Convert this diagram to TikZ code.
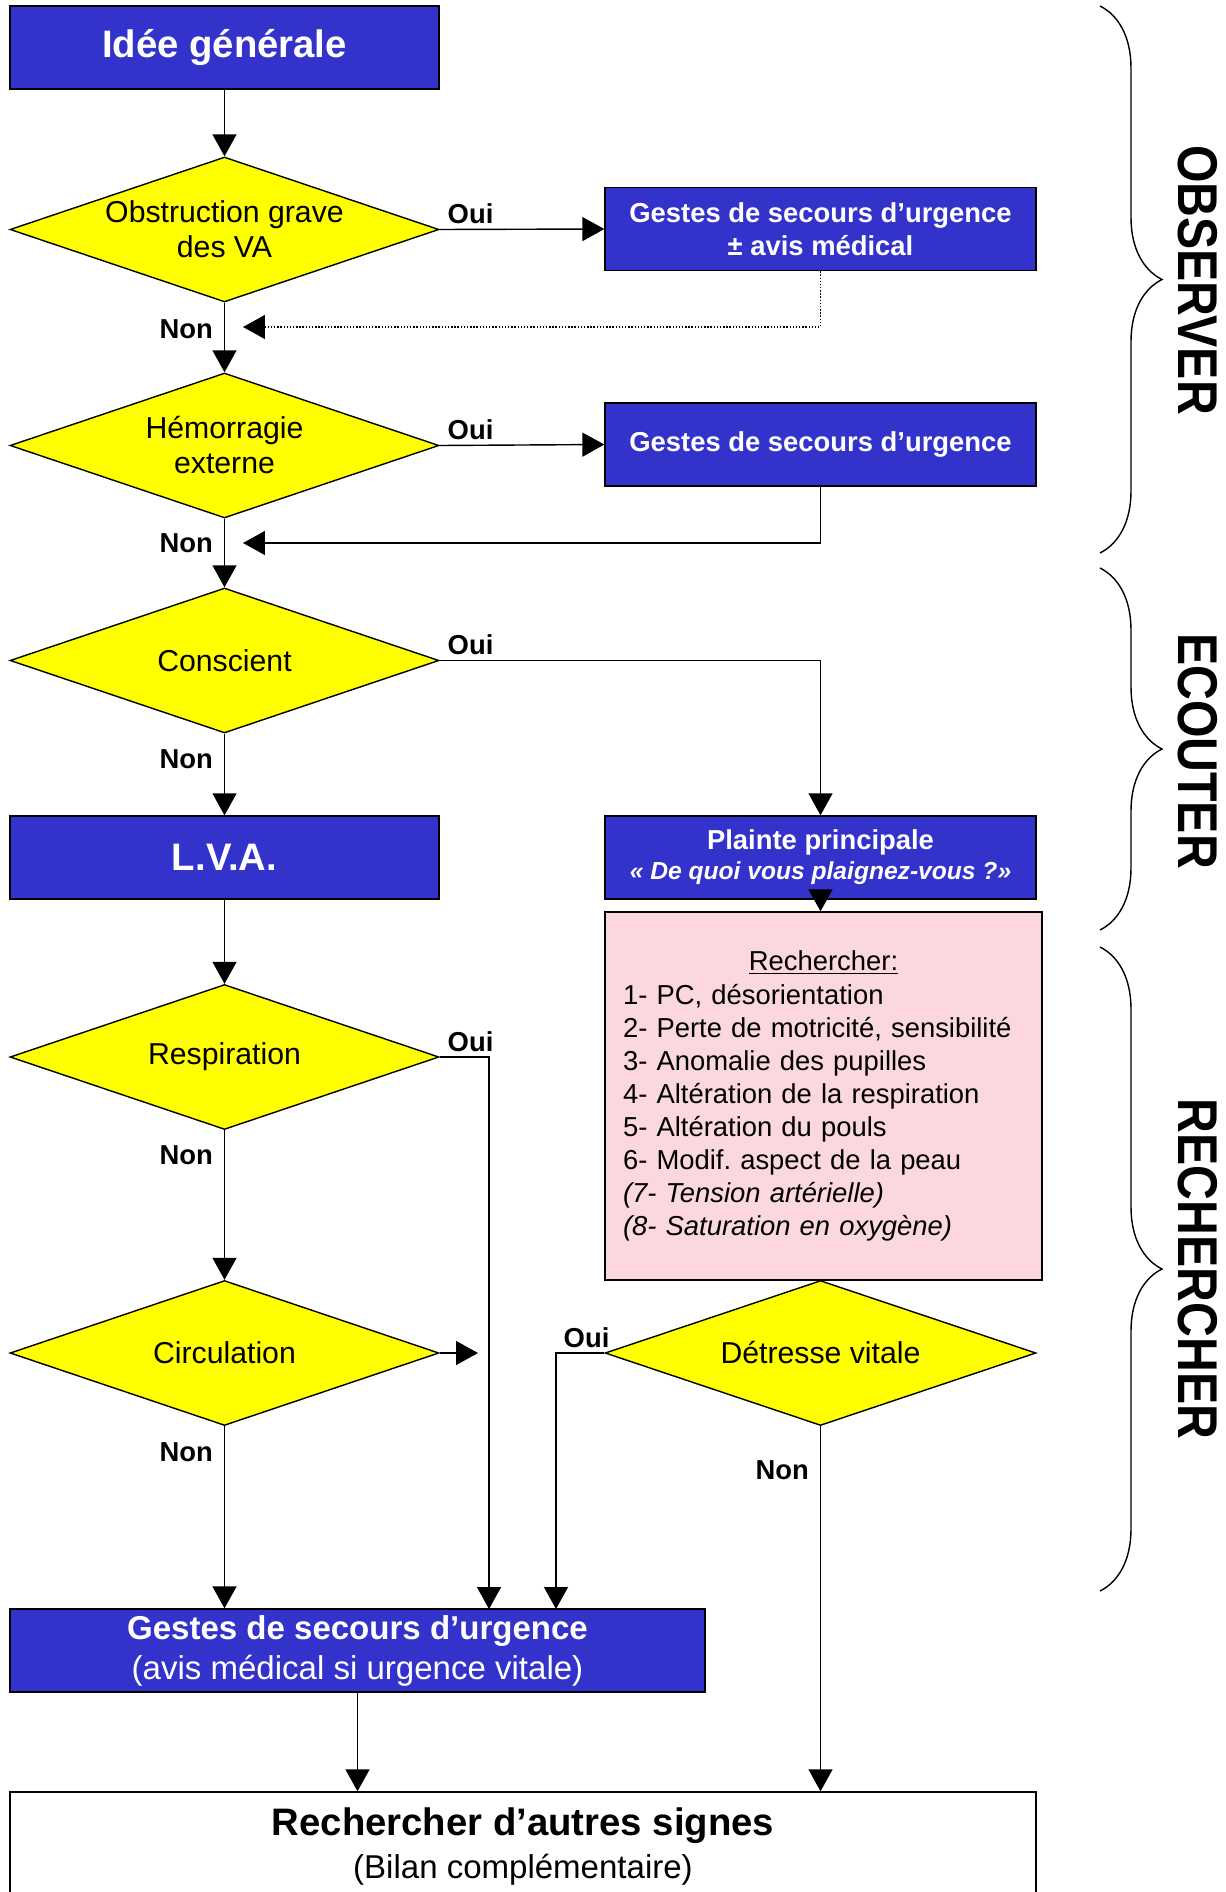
\documentclass[tikz,border=0pt]{standalone}
\usepackage{fontspec}
\setmainfont{Liberation Sans}
\usetikzlibrary{shapes.geometric,arrows.meta,decorations.pathreplacing}
\definecolor{bleu}{RGB}{51,51,204}
\definecolor{jaune}{RGB}{255,255,0}
\definecolor{rose}{RGB}{250,216,222}
\frenchspacing
\begin{document}
\begin{tikzpicture}[x=0.02cm,y=-0.02cm,line width=0.8pt,
  bloc/.style={draw,fill=bleu,text=white,inner sep=0pt,minimum width=8.58cm,minimum height=1.66cm,align=center,font=\bfseries\fontsize{15.6}{18.8}\selectfont},
  test/.style={draw,diamond,aspect=2.96,fill=jaune,inner sep=0pt,minimum width=8.58cm,minimum height=2.9cm,align=center,font=\fontsize{17.2}{19.9}\selectfont},
  lbl/.style={inner sep=2pt,font=\bfseries\fontsize{15.6}{18}\selectfont},
  fl/.style={-{Triangle[length=0.44cm,width=0.48cm]}},
  acc/.style={decorate,decoration={brace,amplitude=1.24cm}},
  etape/.style={rotate=-90,font=\bfseries\fontsize{31.9}{34}\selectfont}]
\def\XG{224.5};\def\XD{820.5};
\useasboundingbox (0,0) rectangle (1225,1892);
\clip (0,0) rectangle (1225,1892);

\node[bloc,font=\bfseries\fontsize{21.8}{24}\selectfont] (idee) at (\XG,47.5) {\raisebox{-2pt}{Idée générale}};
\node[test] (obst) at (\XG,229.5) {Obstruction grave\\des VA};
\node[test] (hemo) at (\XG,445.5) {Hémorragie\\externe};
\node[test] (consc) at (\XG,660.5) {Conscient};
\node[bloc,font=\bfseries\fontsize{21.8}{24}\selectfont] (lva) at (\XG,857.5) {\raisebox{-1pt}{L.V.A.}};
\node[test] (resp) at (\XG,1057) {Respiration};
\node[test] (circ) at (\XG,1353) {Circulation};
\node[bloc,minimum width=13.9cm,font=\bfseries\fontsize{18.8}{22.8}\selectfont] (gsu) at (357.5,1650.5) {Gestes de secours d’urgence\\{\mdseries (avis médical si urgence vitale)}};

\node[bloc,minimum width=8.62cm] (gsA) at (\XD,229) {Gestes de secours d’urgence\\± avis médical};
\node[bloc,minimum width=8.62cm] (gsB) at (\XD,444.5) {Gestes de secours d’urgence};
\node[bloc,minimum width=8.62cm,font=\bfseries\fontsize{15.6}{17}\selectfont] (plainte) at (\XD,857.5) {Plainte principale\\{\fontsize{14}{17}\selectfont\itshape « De quoi vous plaignez-vous ?»}};
\node[draw,fill=rose,minimum width=8.74cm,minimum height=7.36cm,text width=8.02cm,inner sep=0pt,align=left,font=\fontsize{15.6}{18.8}\selectfont] (pink) at (823.5,1096) {\makebox[\hsize]{\underline{Rechercher:}}\\1- PC, désorientation\\2- Perte de motricité, sensibilité\\3- Anomalie des pupilles\\4- Altération de la respiration\\5- Altération du pouls\\6- Modif. aspect de la peau\\\textit{(7- Tension artérielle)}\\\textit{(8- Saturation en oxygène)}};
\node[test,minimum width=8.62cm] (detr) at (\XD,1353) {Détresse vitale};
\node[draw,fill=white,minimum width=20.52cm,minimum height=2.2cm,inner sep=0pt,align=center,font=\bfseries\fontsize{21.8}{24.5}\selectfont] (rech) at (523,1847) {Rechercher d’autres signes\\{\mdseries\fontsize{18.8}{24.5}\selectfont (Bilan complémentaire)}};

\node[lbl,anchor=east] (non1) at (217,329) {Non};
\node[lbl,anchor=east] (non2) at (217,543) {Non};
\node[lbl,anchor=east] (non3) at (217,759) {Non};
\node[lbl,anchor=east] (non4) at (217,1155) {Non};
\node[lbl,anchor=east] (non5) at (217,1452) {Non};
\node[lbl,anchor=east] (non6) at (813,1470) {Non};
\node[lbl,anchor=south west] (oui1) at (443.5,227.5) {Oui};
\node[lbl,anchor=south west] (oui2) at (443.5,443.5) {Oui};
\node[lbl,anchor=south west] (oui3) at (443.5,658.5) {Oui};
\node[lbl,anchor=south west] (oui4) at (443.5,1055.5) {Oui};
\node[lbl,anchor=south west] (oui5) at (559.5,1351.5) {Oui};

\coordinate (r1) at (243,327); \coordinate (r2) at (243,543);
\coordinate (r3) at (489,1609); \coordinate (r4) at (478,1353); \coordinate (r5) at (556,1609);
\draw[fl] (idee) -- (obst);
\draw[fl] (obst) -- (hemo);
\draw[fl] (hemo) -- (consc);
\draw[fl] (consc) -- (lva);
\draw[fl] (lva) -- (resp);
\draw[fl] (resp) -- (circ);
\draw[fl] (obst.east) -- (gsA.west);
\draw[fl] (hemo.east) -- (gsB.west);
\draw[fl,densely dotted] (gsA.south) |- (r1);
\draw[fl] (gsB.south) |- (r2);
\draw[fl] (consc.east) -| (plainte.north);
\draw[fl] (plainte.south) -- (plainte.south |- pink.north);
\draw[fl] (resp.east) -| (r3);
\draw[fl] (circ.east) -- (r4);
\draw[fl] (detr.west) -| (r5);
\draw[fl] (circ.south) -- (circ.south |- gsu.north);
\draw[fl] (detr.south) -- (detr.south |- rech.north);
\draw[fl] (gsu.south) -- (gsu.south |- rech.north);

\draw[acc] (1100,6) -- (1100,553);
\draw[acc] (1100,568) -- (1100,930);
\draw[acc] (1100,947) -- (1100,1591);
\node[etape] (obs) at (1198,280) {\scalebox{0.86}[1]{OBSERVER}};
\node[etape] (eco) at (1198,751) {\scalebox{0.86}[1]{ECOUTER}};
\node[etape] (rec) at (1198,1269) {\scalebox{0.86}[1]{RECHERCHER}};
\end{tikzpicture}
\end{document}
